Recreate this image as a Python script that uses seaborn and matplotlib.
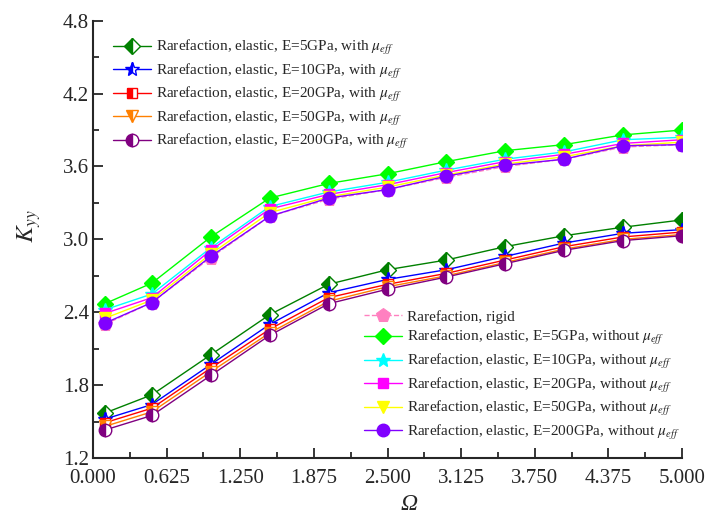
import numpy as np
import matplotlib
matplotlib.use('Agg')
import matplotlib.pyplot as plt
import seaborn as sns
from matplotlib.ticker import MultipleLocator, FormatStrFormatter

# Omega values
omega = [0.1, 0.5, 1.0, 1.5, 2.0, 2.5, 3.0, 3.5, 4.0, 4.5, 5.0]

# with mu_eff (lower group)
with_e5 = [1.57, 1.72, 2.05, 2.38, 2.63, 2.75, 2.83, 2.94, 3.03, 3.10, 3.16]
with_e10 = [1.52, 1.64, 1.97, 2.30, 2.56, 2.67, 2.75, 2.86, 2.97, 3.05, 3.08]
with_e20 = [1.49, 1.61, 1.94, 2.26, 2.52, 2.63, 2.72, 2.83, 2.94, 3.02, 3.06]
with_e50 = [1.46, 1.58, 1.91, 2.23, 2.49, 2.61, 2.70, 2.81, 2.92, 3.00, 3.04]
with_e200 = [1.43, 1.55, 1.88, 2.21, 2.47, 2.59, 2.69, 2.80, 2.91, 2.99, 3.03]

# without mu_eff (upper group)
rigid = [2.30, 2.48, 2.85, 3.19, 3.33, 3.41, 3.51, 3.60, 3.66, 3.76, 3.78]
without_e5 = [2.47, 2.64, 3.02, 3.34, 3.46, 3.54, 3.64, 3.73, 3.78, 3.86, 3.90]
without_e10 = [2.42, 2.55, 2.93, 3.27, 3.39, 3.47, 3.57, 3.66, 3.72, 3.82, 3.84]
without_e20 = [2.39, 2.52, 2.91, 3.25, 3.37, 3.45, 3.55, 3.64, 3.70, 3.79, 3.82]
without_e50 = [2.35, 2.50, 2.88, 3.22, 3.35, 3.43, 3.53, 3.62, 3.68, 3.77, 3.80]
without_e200 = [2.31, 2.48, 2.86, 3.19, 3.34, 3.41, 3.52, 3.61, 3.66, 3.77, 3.78]

with_labels = [r'Rarefaction, elastic, E=5GPa, with $\mu_{eff}$',
               r'Rarefaction, elastic, E=10GPa, with $\mu_{eff}$',
               r'Rarefaction, elastic, E=20GPa, with $\mu_{eff}$',
               r'Rarefaction, elastic, E=50GPa, with $\mu_{eff}$',
               r'Rarefaction, elastic, E=200GPa, with $\mu_{eff}$']
without_labels = ['Rarefaction, rigid',
                  r'Rarefaction, elastic, E=5GPa, without $\mu_{eff}$',
                  r'Rarefaction, elastic, E=10GPa, without $\mu_{eff}$',
                  r'Rarefaction, elastic, E=20GPa, without $\mu_{eff}$',
                  r'Rarefaction, elastic, E=50GPa, without $\mu_{eff}$',
                  r'Rarefaction, elastic, E=200GPa, without $\mu_{eff}$']

sns.set_style('ticks')
plt.rcParams['font.family'] = 'serif'
plt.rcParams['font.serif'] = ['Liberation Serif', 'Times New Roman', 'DejaVu Serif']
plt.rcParams['mathtext.fontset'] = 'stix'
plt.rcParams['xtick.direction'] = 'in'
plt.rcParams['ytick.direction'] = 'in'

fig = plt.figure(figsize=(7.08, 5.19), dpi=100)
ax = fig.add_axes([93 / 708, 1 - 458 / 519, 589 / 708, (458 - 20.7) / 519])

# style per series: color, marker, size
with_styles = [('#008000', 'D', 8), ('#0000FF', '*', 10), ('#FF0000', 's', 7),
               ('#FF8000', 'v', 8), ('#800080', 'o', 9)]
without_styles = [('#00FF00', 'D', 8), ('#00FFFF', '*', 10), ('#FF00FF', 's', 7),
                  ('#FFFF00', 'v', 8), ('#8000FF', 'o', 9)]

with_series = [with_e5, with_e10, with_e20, with_e50, with_e200]
without_series = [without_e5, without_e10, without_e20, without_e50, without_e200]

h_with = []
for vals, (c, m, ms), lab in zip(with_series, with_styles, with_labels):
    sns.lineplot(x=omega, y=vals, ax=ax, color=c, marker=m, markersize=ms,
                 fillstyle='left', markerfacecoloralt='white', markeredgecolor=c,
                 markeredgewidth=1, linewidth=1, label=lab)
    h_with.append(ax.lines[-1])

h_without = []
sns.lineplot(x=omega, y=rigid, ax=ax, color='#FF80C0', marker='p', markersize=10,
             markeredgecolor='#FF80C0', linestyle='--', linewidth=1,
             label=without_labels[0], zorder=1)
h_without.append(ax.lines[-1])
for vals, (c, m, ms), lab in zip(without_series, without_styles, without_labels[1:]):
    sns.lineplot(x=omega, y=vals, ax=ax, color=c, marker=m, markersize=ms,
                 markeredgecolor=c, markeredgewidth=1, linewidth=1, label=lab)
    h_without.append(ax.lines[-1])

ax.get_legend().remove()

ax.set_xlim(0, 5)
ax.set_ylim(1.2, 4.8)
ax.xaxis.set_major_locator(MultipleLocator(0.625))
ax.xaxis.set_minor_locator(MultipleLocator(0.3125))
ax.xaxis.set_major_formatter(FormatStrFormatter('%.3f'))
ax.yaxis.set_major_locator(MultipleLocator(0.6))
ax.yaxis.set_minor_locator(MultipleLocator(0.3))
ax.yaxis.set_major_formatter(FormatStrFormatter('%.1f'))
ax.tick_params(which='major', length=7, width=1.3, labelsize=15)
ax.tick_params(axis='x', pad=8)
ax.tick_params(axis='y', pad=3)
ax.tick_params(which='minor', length=4, width=1.3)
for s in ['left', 'bottom']:
    ax.spines[s].set_linewidth(1.5)
sns.despine(ax=ax)

ax.set_xlabel('Ω', fontsize=17, fontstyle='italic')
ax.set_ylabel(r'$K_{yy}$', fontsize=18)
ax.xaxis.set_label_coords((409 - 93) / 589, -0.082)
ax.yaxis.set_label_coords(-0.085, 0.53)

leg1 = ax.legend(handles=h_with, labels=with_labels, loc='upper left',
                 bbox_to_anchor=(113 / 708, 1 - 38 / 519), bbox_transform=fig.transFigure,
                 frameon=False, fontsize=11, handlelength=2.5, handletextpad=0.3,
                 labelspacing=0.3, borderaxespad=0, borderpad=0)
ax.add_artist(leg1)
ax.legend(handles=h_without, labels=without_labels, loc='upper left',
          bbox_to_anchor=(364 / 708, 1 - 310 / 519), bbox_transform=fig.transFigure,
          frameon=False, fontsize=11, handlelength=2.5, handletextpad=0.3,
          labelspacing=0.3, borderaxespad=0, borderpad=0)

fig.savefig('out.png', dpi=100)
